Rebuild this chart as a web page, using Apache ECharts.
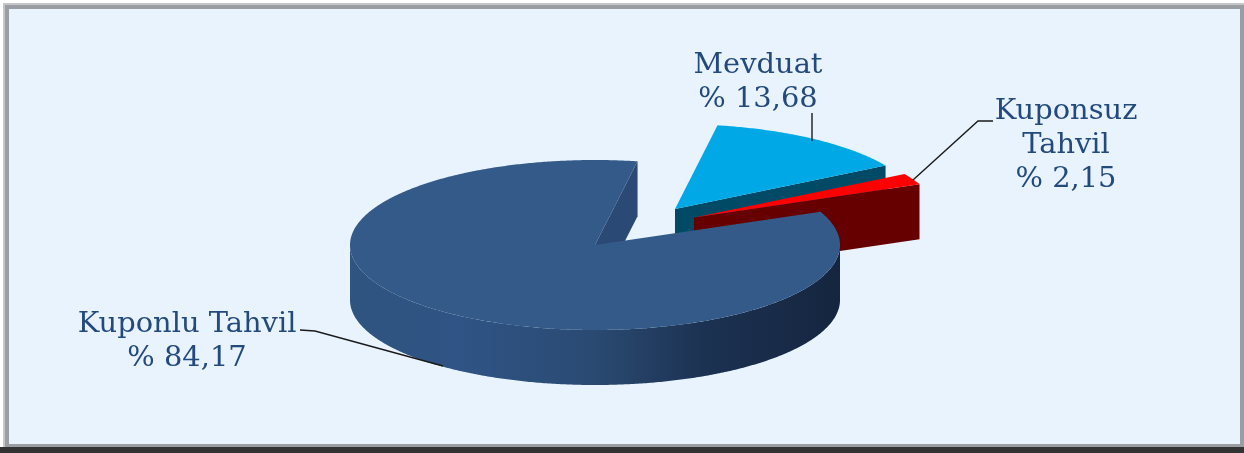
<!DOCTYPE html>
<html><head><meta charset="utf-8">
<style>html,body{margin:0;padding:0;background:#fff}#c{width:1244px;height:453px}</style>
<script src="https://cdn.jsdelivr.net/npm/echarts@6/dist/echarts.min.js"></script>
</head><body><div id="c"></div>
<script>
const categories = ['Mevduat', 'Kuponsuz\nTahvil', 'Kuponlu Tahvil'];
const values = [13.68, 2.15, 84.17];

const topColors = ['#00a8e6', '#ff0000', '#335a88'];
const sideColors = ['#004a66', '#660000', '#2a4a75'];
const startDeg = 80;
const cx = 595, cy = 245, rx = 245, ry = 85, depth = 55;
const explode = [[80, -36], [99, -27.5], [0, 0]];
const labelAt = [[758, 82.5], [1066, 145.5], [187, 341.5]];
const leaders = [
  [[812, 113], [812, 141]],
  [[993, 121], [978, 121], [913, 180]],
  [[300, 330], [315, 331], [443, 366]]
];
const wallGradient = {
  type: 'linear', x: 0, y: 0, x2: 1, y2: 0,
  colorStops: [
    { offset: 0, color: '#2f5480' }, { offset: 0.22, color: '#2f5485' },
    { offset: 0.5, color: '#2a4a72' }, { offset: 0.72, color: '#1c3252' },
    { offset: 1, color: '#15253f' }
  ]
};
const textFont = '27px "DejaVu Serif"';
const textColor = '#234a7c';
const textStretch = 1.07;

const total = values.reduce((a, b) => a + b, 0);
function point(t, ox, oy, dz) {
  const r = t * Math.PI / 180;
  return [cx + ox + rx * Math.cos(r), cy + oy - ry * Math.sin(r) + dz];
}
function arc(from, to, ox, oy, dz) {
  const n = Math.max(2, Math.ceil(Math.abs(to - from) * 2)), pts = [];
  for (let i = 0; i <= n; i++) pts.push(point(from + (to - from) * i / n, ox, oy, dz));
  return pts;
}
function renderItem(params) {
  const i = params.dataIndex;
  let before = 0;
  for (let k = 0; k < i; k++) before += values[k];
  const a0 = startDeg - before / total * 360;
  const a1 = a0 - values[i] / total * 360;
  const ox = explode[i][0], oy = explode[i][1];
  const apex = [cx + ox, cy + oy];
  const children = [];
  const rim = point(a1, ox, oy, 0);
  children.push({ type: 'polygon', shape: { points: [apex, rim, [rim[0], rim[1] + depth], [apex[0], apex[1] + depth]] }, style: { fill: sideColors[i] } });
  // the outer wall shows only on the front half of the ellipse
  const wallFrom = Math.min(a0, 0), wallTo = Math.max(a1, -180);
  if (a1 < 0 && wallFrom > wallTo) {
    const upper = arc(wallFrom, wallTo, ox, oy, 0);
    const lower = arc(wallTo, wallFrom, ox, oy, depth);
    children.push({ type: 'polygon', shape: { points: upper.concat(lower) }, style: { fill: wallGradient } });
  }
  children.push({ type: 'polygon', shape: { points: [apex].concat(arc(a0, a1, ox, oy, 0)) }, style: { fill: topColors[i] } });
  return { type: 'group', children };
}
function labelText(i) {
  return categories[i] + '\n% ' + values[i].toFixed(2).replace('.', ',');
}
const chart = echarts.init(document.getElementById('c'), null, { renderer: 'canvas' });
chart.setOption({
  animation: false,
  graphic: { elements: [
    { type: 'rect', z: -10, shape: { x: 0, y: 0, width: 1244, height: 453 }, style: { fill: '#ffffff' } },
    { type: 'rect', z: -9, shape: { x: 3, y: 3, width: 1241, height: 450 }, style: { fill: '#c4c6c8' } },
    { type: 'rect', z: -8, shape: { x: 5, y: 5, width: 1239, height: 448 }, style: { fill: '#9a9ea2' } },
    { type: 'rect', z: -7, shape: { x: 0, y: 447, width: 1244, height: 6 }, style: { fill: '#333333' } },
    { type: 'rect', z: -6, shape: { x: 9, y: 9, width: 1231, height: 435 }, style: { fill: '#e8f3fe' } }
  ] },
  series: [
    { type: 'custom', coordinateSystem: 'none', silent: true, z: 2,
      data: values.map((v, i) => ({ name: categories[i], value: v })),
      renderItem },
    { type: 'custom', coordinateSystem: 'none', silent: true, z: 3,
      data: values.map((v, i) => ({ name: categories[i], value: v })),
      renderItem: (params) => {
        const i = params.dataIndex;
        return { type: 'group', children: [
          { type: 'polyline', shape: { points: leaders[i] }, style: { stroke: '#1a1a1a', lineWidth: 1.4, fill: null } },
          { type: 'text', x: labelAt[i][0], y: labelAt[i][1], scaleX: textStretch, style: { x: 0, y: 0, text: labelText(i), font: textFont, fill: textColor, align: 'center', verticalAlign: 'middle', lineHeight: 34 } }
        ] };
      } }
  ]
});
</script></body></html>
